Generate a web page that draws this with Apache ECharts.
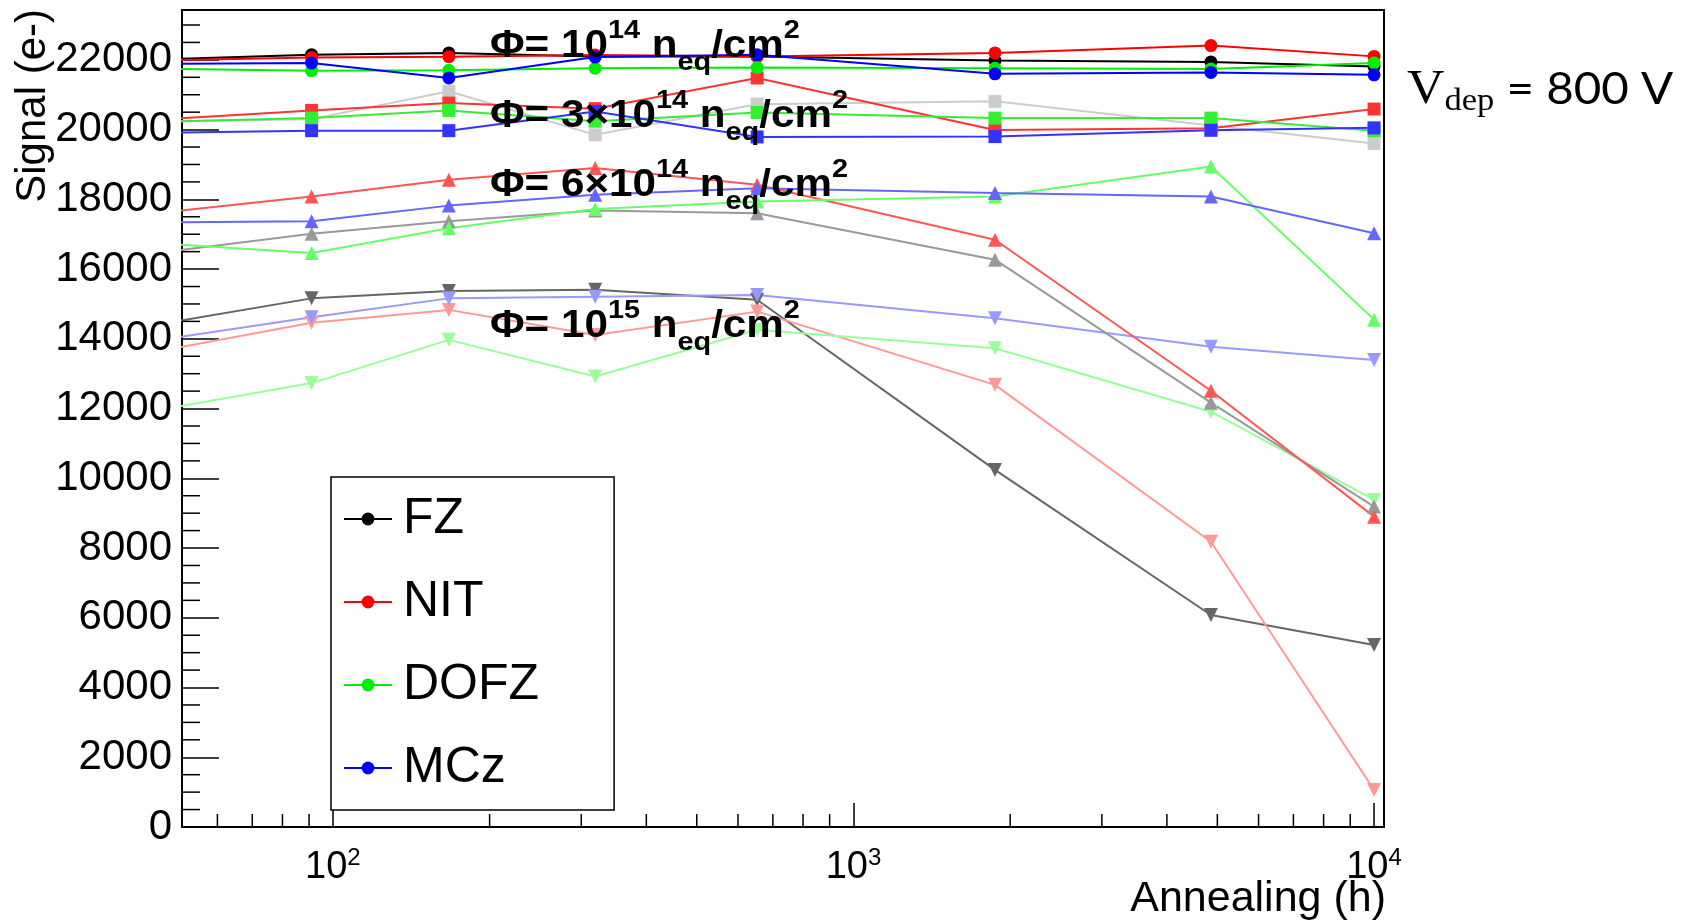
<!DOCTYPE html>
<html>
<head>
<meta charset="utf-8">
<script src="https://cdn.jsdelivr.net/npm/echarts@6/dist/echarts.min.js"></script>
<style>
html,body{margin:0;padding:0;background:#fff;}
#chart{width:1689px;height:922px;}
</style>
</head>
<body>
<div id="chart"></div>
<script>
// ---- data ----
const annealingHours = [42, 91, 167, 319, 653, 1870, 4860, 10000];

const FZ_1e14   = [21990, 22150, 22200, 22100, 22100, 21980, 21940, 21810];
const NIT_1e14  = [21975, 22070, 22090, 22140, 22100, 22200, 22410, 22100];
const DOFZ_1e14 = [21757, 21690, 21700, 21760, 21780, 21760, 21740, 21910];
const MCz_1e14  = [21883, 21910, 21480, 22080, 22150, 21600, 21640, 21570];

const FZ_3e14   = [20220, 20300, 21100, 19850, 20730, 20810, 20120, 19600];
const NIT_3e14  = [20254, 20550, 20760, 20600, 21480, 19990, 20040, 20590];
const DOFZ_3e14 = [20209, 20330, 20550, 20240, 20490, 20330, 20330, 19970];
const MCz_3e14  = [19903, 19970, 19970, 20520, 19790, 19800, 19980, 20050];

const FZ_6e14   = [16390, 17010, 17370, 17680, 17600, 16270, 12170, 9190];
const NIT_6e14  = [17541, 18080, 18560, 18900, 18420, 16840, 12510, 8900];
const DOFZ_6e14 = [16783, 16460, 17170, 17720, 17940, 18080, 18940, 14550];
const MCz_6e14  = [17330, 17370, 17820, 18130, 18320, 18180, 18080, 17030];

const FZ_1e15   = [14311, 15160, 15370, 15410, 15120, 10240, 6080, 5220];
const NIT_1e15  = [13531, 14460, 14830, 14110, 14780, 12680, 8180, 1060];
const DOFZ_1e15 = [11854, 12730, 13970, 12920, 14260, 13730, 11910, 9380];
const MCz_1e15  = [13866, 14620, 15160, 15210, 15260, 14590, 13770, 13390];

const legendNames = ['FZ', 'NIT', 'DOFZ', 'MCz'];
const xMinorTicks = [60, 70, 80, 90, 200, 300, 400, 500, 600, 700, 800, 900,
                     2000, 3000, 4000, 5000, 6000, 7000, 8000, 9000];
const yMinorTicks = [500, 1000, 1500, 2500, 3000, 3500, 4500, 5000, 5500, 6500, 7000, 7500,
                     8500, 9000, 9500, 10500, 11000, 11500, 12500, 13000, 13500, 14500, 15000, 15500,
                     16500, 17000, 17500, 18500, 19000, 19500, 20500, 21000, 21500, 22500, 23000];
const fluenceLabels = [
  ['10', '14'],
  ['3×10', '14'],
  ['6×10', '14'],
  ['10', '15']
];

// ---- layout / style ----
const X_MIN = 51.3, X_MAX = 10450, Y_MAX = 23430;
const F = '"Liberation Sans", Arial, Helvetica, sans-serif';

function pairs(vals) { return annealingHours.map((x, i) => [x, vals[i]]); }

const seriesDefs = [
  ['FZ 1e15', FZ_1e15, '#666666', 'triangle', 180],
  ['NIT 1e15', NIT_1e15, '#ff9999', 'triangle', 180],
  ['DOFZ 1e15', DOFZ_1e15, '#99ff99', 'triangle', 180],
  ['MCz 1e15', MCz_1e15, '#9999ff', 'triangle', 180],
  ['FZ 6e14', FZ_6e14, '#999999', 'triangle', 0],
  ['NIT 6e14', NIT_6e14, '#ff5555', 'triangle', 0],
  ['DOFZ 6e14', DOFZ_6e14, '#66ff66', 'triangle', 0],
  ['MCz 6e14', MCz_6e14, '#6666ff', 'triangle', 0],
  ['FZ 3e14', FZ_3e14, '#cccccc', 'rect', 0],
  ['NIT 3e14', NIT_3e14, '#ff3333', 'rect', 0],
  ['DOFZ 3e14', DOFZ_3e14, '#33ee33', 'rect', 0],
  ['MCz 3e14', MCz_3e14, '#3333ff', 'rect', 0],
  ['FZ', FZ_1e14, '#000000', 'circle', 0],
  ['NIT', NIT_1e14, '#ff0000', 'circle', 0],
  ['DOFZ', DOFZ_1e14, '#00ee00', 'circle', 0],
  ['MCz', MCz_1e14, '#0000ff', 'circle', 0]
];

const series = seriesDefs.map(d => ({
  name: d[0],
  type: 'line',
  data: pairs(d[1]),
  symbol: d[3],
  symbolRotate: d[4],
  symbolSize: d[3] === 'triangle' ? 14 : 13,
  showAllSymbol: true,
  clip: true,
  color: d[2],
  itemStyle: { color: d[2] },
  lineStyle: { color: d[2], width: 2 },
  emphasis: { disabled: true },
  z: 3
}));

series.push({
  type: 'custom', name: 'xminor', silent: true, z: 5,
  data: xMinorTicks.map(v => [v, 0]),
  renderItem: function (params, api) {
    const p = api.coord([api.value(0), 0]);
    return { type: 'line', shape: { x1: p[0], y1: p[1], x2: p[0], y2: p[1] - 13 },
             style: { stroke: '#000', lineWidth: 1.5 } };
  }
});
series.push({
  type: 'custom', name: 'yminor', silent: true, z: 5,
  data: yMinorTicks.map(v => [X_MIN, v]),
  renderItem: function (params, api) {
    const p = api.coord([X_MIN, api.value(1)]);
    return { type: 'line', shape: { x1: p[0], y1: p[1], x2: p[0] + 18, y2: p[1] },
             style: { stroke: '#000', lineWidth: 1.5 } };
  }
});

const richPhi = {
  m: { fontSize: 38, fontWeight: 'bold', fontFamily: F, lineHeight: 58, verticalAlign: 'middle', fill: '#000' },
  s: { fontSize: 26, fontWeight: 'bold', fontFamily: F, lineHeight: 28, verticalAlign: 'top', fill: '#000' },
  b: { fontSize: 26, fontWeight: 'bold', fontFamily: F, lineHeight: 28, verticalAlign: 'bottom', fill: '#000' }
};
const phiY = [47, 117, 186, 327];
const phiTexts = fluenceLabels.map((f, i) => ({
  type: 'text', x: 490, y: phiY[i], scaleX: 1.11, z: 100,
  style: {
    text: '{m|Φ= ' + f[0] + '}{s|' + f[1] + '}{m| n}{b|eq}{m|/cm}{s|2}',
    rich: richPhi, align: 'left', verticalAlign: 'middle'
  }
}));

const option = {
  animation: false,
  backgroundColor: '#ffffff',
  grid: { left: 182, right: 305, top: 10, bottom: 95, show: true, borderColor: '#000', borderWidth: 2, backgroundColor: 'transparent' },
  xAxis: {
    type: 'log', logBase: 10, min: X_MIN, max: X_MAX,
    axisLine: { lineStyle: { color: '#000', width: 2 } },
    axisTick: { inside: true, length: 24, lineStyle: { color: '#000', width: 1.5 } },
    splitLine: { show: false },
    axisLabel: {
      margin: 19, color: '#000',
      formatter: function (v) {
        const e = Math.log10(v);
        if (Math.abs(e - Math.round(e)) > 1e-6) return '';
        return '{b|10}{s|' + Math.round(e) + '}';
      },
      rich: {
        b: { fontSize: 38, fontFamily: F, lineHeight: 44, verticalAlign: 'middle', color: '#000' },
        s: { fontSize: 24, fontFamily: F, lineHeight: 24, verticalAlign: 'top', color: '#000' }
      }
    }
  },
  yAxis: {
    type: 'value', min: 0, max: Y_MAX, interval: 2000,
    axisLine: { show: true, lineStyle: { color: '#000', width: 2 } },
    axisTick: { inside: true, length: 37, lineStyle: { color: '#000', width: 1.5 } },
    splitLine: { show: false },
    axisLabel: { margin: 10, color: '#000', fontSize: 42, fontFamily: F, showMaxLabel: false,
      formatter: v => (v % 2000 === 0 ? String(v) : '') }
  },
  legend: {
    data: legendNames,
    orient: 'vertical', left: 331, top: 477,
    backgroundColor: '#fff', borderColor: '#000', borderWidth: 1.5,
    padding: [14, 75, 14, 12],
    itemWidth: 48, itemHeight: 16, itemGap: 27,
    textStyle: { fontSize: 50, fontFamily: F, color: '#000', lineHeight: 56, padding: [0, 0, 0, 6] },
    selectedMode: false
  },
  graphic: phiTexts.concat([
    { type: 'text', x: 33, y: 9, rotation: Math.PI / 2, z: 100,
      style: { text: 'Signal (e-)', font: '42px ' + F, fill: '#000', align: 'right', verticalAlign: 'middle' } },
    { type: 'text', x: 1386, y: 899, z: 100,
      style: { text: 'Annealing (h)', font: '43px ' + F, fill: '#000', align: 'right', verticalAlign: 'middle' } },
    { type: 'text', x: 1407, y: 90, z: 100, scaleX: 1.08,
      style: {
        text: '{v|V}{d|dep}{t| = 800 V}', align: 'left', verticalAlign: 'middle',
        rich: {
          v: { fontSize: 48, fontFamily: '"Liberation Serif", "DejaVu Serif", serif', lineHeight: 56, verticalAlign: 'middle', fill: '#000' },
          d: { fontSize: 32, fontFamily: '"Liberation Serif", "DejaVu Serif", serif', lineHeight: 36, verticalAlign: 'bottom', fill: '#000' },
          t: { fontSize: 44, fontFamily: 'Lato, "Open Sans", sans-serif', lineHeight: 56, verticalAlign: 'middle', fill: '#000' }
        }
      } }
  ]),
  series: series
};

const chart = echarts.init(document.getElementById('chart'), null, { renderer: 'canvas' });
chart.setOption(option);
</script>
</body>
</html>
